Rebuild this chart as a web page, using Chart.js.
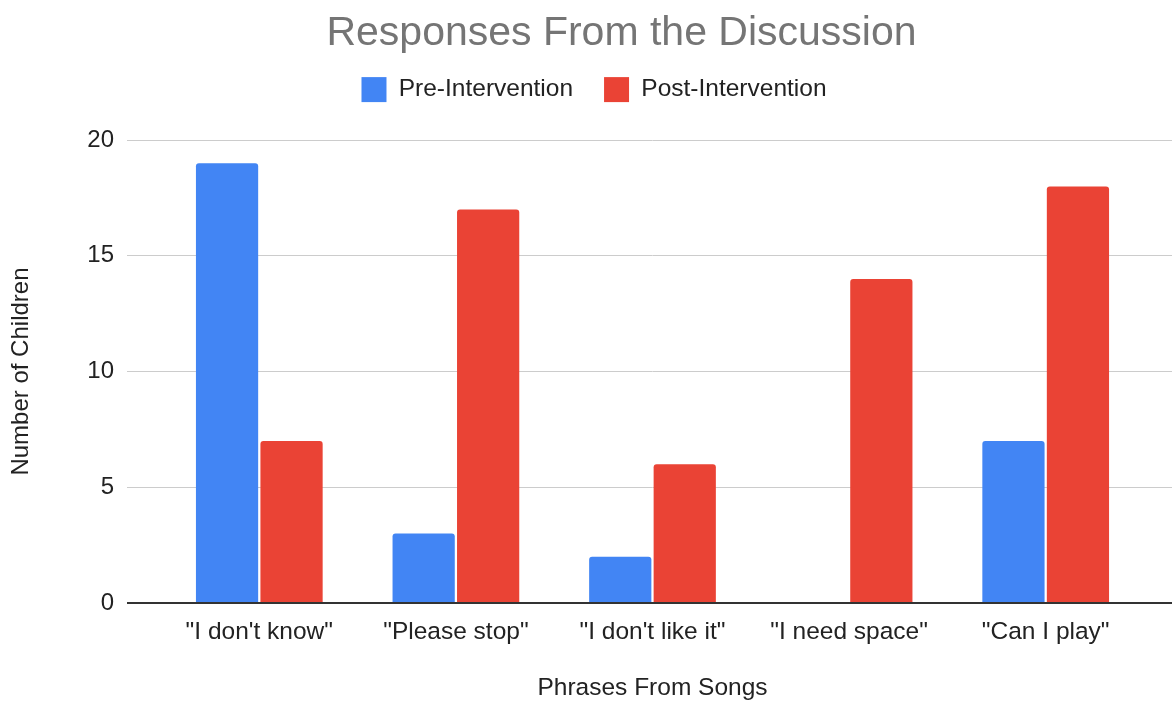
<!DOCTYPE html>
<html>
<head>
<meta charset="utf-8">
<script src="https://cdn.jsdelivr.net/npm/chart.js@4.4.1/dist/chart.umd.min.js"></script>
<style>
  html, body { margin: 0; padding: 0; background: #fff; }
  #wrap { width: 1172px; height: 703px; }
</style>
</head>
<body>
<div id="wrap"><canvas id="respChart"></canvas></div>
<script>
const phrases = ['"I don\'t know"', '"Please stop"', '"I don\'t like it"', '"I need space"', '"Can I play"'];
const preIntervention = [19, 3, 2, 0, 7];
const postIntervention = [7, 17, 6, 14, 18];
const yTicks = [0, 5, 10, 15, 20];

Chart.defaults.font.family = 'Arial, "Liberation Sans", sans-serif';
Chart.defaults.color = "#222";

// same snapping chart.js uses for its own grid lines
function alignPx(v, w) {
    const half = Math.max(w / 2, 0.5);
    return Math.round(v - half) + half;
}

// google-sheets style: gridlines run past the category area on both sides,
// title and legend sit a bit right of the canvas centre
const extendGrid = {
    id: "extendGrid",
    beforeInit(chart) {
        const legend = chart.legend;
        const fit = legend.fit;
        legend.fit = function () {
            fit.call(this);
            this.height += 28;
        };
    },
    afterLayout(chart) {
        chart.titleBlock.left += 99;
        chart.legend.left += 44;
    },
    beforeDatasetsDraw(chart) {
        const { ctx, chartArea, scales } = chart;
        ctx.save();
        yTicks.forEach(v => {
            const lw = v === 0 ? 2 : 1;
            const y = alignPx(scales.y.getPixelForValue(v), lw);
            ctx.beginPath();
            ctx.strokeStyle = v === 0 ? "#333" : "#ccc";
            ctx.lineWidth = lw;
            ctx.moveTo(chartArea.right - 1, y);
            ctx.lineTo(chart.width, y);
            ctx.stroke();
        });
        ctx.restore();
    }
};

const ctx = document.getElementById("respChart").getContext("2d");

new Chart(ctx, {
    type: "bar",
    data: {
        labels: phrases,
        datasets: [{
            label: "Pre-Intervention",
            data: preIntervention,
            backgroundColor: "#4285F4",
            borderRadius: { topLeft: 3, topRight: 3, bottomLeft: 0, bottomRight: 0 },
            borderSkipped: "start"
        }, {
            label: "Post-Intervention",
            data: postIntervention,
            backgroundColor: "#EA4335",
            borderRadius: { topLeft: 3, topRight: 3, bottomLeft: 0, bottomRight: 0 },
            borderSkipped: "start"
        }]
    },
    options: {
        responsive: true,
        maintainAspectRatio: false,
        animation: false,
        categoryPercentage: 0.656,
        barPercentage: 0.965,
        layout: { padding: { left: 0, right: 28, top: 0, bottom: 0 } },
        plugins: {
            title: {
                display: true,
                text: "Responses From the Discussion",
                color: "#757575",
                font: { size: 41, weight: "normal", lineHeight: 0.6 },
                padding: { top: 21.5, bottom: 0 }
            },
            legend: {
                position: "top",
                labels: {
                    boxWidth: 25,
                    boxHeight: 25,
                    padding: 31,
                    color: "#222",
                    font: { size: 24.5 }
                }
            },
            tooltip: { enabled: false }
        },
        scales: {
            x: {
                grid: { display: false, drawTicks: false },
                border: { display: false },
                ticks: { padding: 15, font: { size: 24.5 }, maxRotation: 0, autoSkip: false },
                title: {
                    display: true,
                    text: "Phrases From Songs",
                    font: { size: 24.5 },
                    padding: { top: 0, bottom: 0 }
                },
                afterFit(scale) { scale.height = 100; }
            },
            y: {
                min: 0,
                max: 20,
                afterBuildTicks(scale) { scale.ticks = yTicks.map(v => ({ value: v })); },
                grid: {
                    color: c => c.tick && c.tick.value === 0 ? "#333" : "#ccc",
                    tickColor: c => c.tick && c.tick.value === 0 ? "#333" : "#ccc",
                    lineWidth: c => c.tick && c.tick.value === 0 ? 2 : 1,
                    tickLength: 34
                },
                border: { display: false },
                ticks: { padding: 13, font: { size: 24 } },
                title: {
                    display: true,
                    text: "Number of Children",
                    font: { size: 24 },
                    padding: { top: 7, bottom: 0 }
                },
                afterFit(scale) { scale.width = 161; }
            }
        }
    },
    plugins: [extendGrid]
});
</script>
</body>
</html>
